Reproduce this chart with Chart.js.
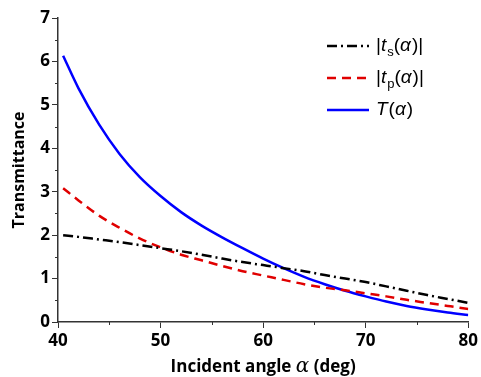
<!DOCTYPE html>
<html>
<head>
<meta charset="utf-8">
<script src="https://cdn.jsdelivr.net/npm/chart.js@4.4.1/dist/chart.umd.min.js"></script>
<style>
  html, body { margin: 0; padding: 0; background: #fff; }
  #wrap { width: 481px; height: 377px; position: relative; }
</style>
</head>
<body>
<div id="wrap"><canvas id="myChart"></canvas></div>
<script>
const angles = [40.5, 42, 44, 46, 48, 50, 52, 54, 56, 58, 60, 62, 64, 66, 68, 70, 72, 74, 76, 78, 80]
const tS = [2.0, 1.96, 1.9, 1.84, 1.77, 1.70, 1.63, 1.55, 1.46, 1.38, 1.31, 1.24, 1.17, 1.08, 1.0, 0.92, 0.82, 0.72, 0.62, 0.53, 0.44]
const tP = [3.08, 2.8, 2.45, 2.17, 1.92, 1.72, 1.55, 1.42, 1.29, 1.17, 1.07, 0.97, 0.87, 0.79, 0.73, 0.66, 0.59, 0.51, 0.44, 0.37, 0.3]
const bigT = [6.13, 5.38, 4.55, 3.87, 3.33, 2.90, 2.53, 2.22, 1.95, 1.70, 1.46, 1.24, 1.04, 0.87, 0.72, 0.59, 0.47, 0.37, 0.29, 0.22, 0.16]
const xTicks = [40, 50, 60, 70, 80]
const yTicks = [0, 1, 2, 3, 4, 5, 6, 7]

const pts = (ys) => angles.map((a, i) => ({x: a, y: ys[i]}))

// legend entries, text pieces: n normal, i italic, s subscript
const legendItems = [
  {color: '#000000', dash: [10, 4, 2, 4], parts: [['|', 'n'], ['t', 'i'], ['s', 's'], ['(', 'n'], ['α', 'i'], [')|', 'n']]},
  {color: '#e00000', dash: [9, 6], parts: [['|', 'n'], ['t', 'i'], ['p', 's'], ['(', 'n'], ['α', 'i'], [')|', 'n']]},
  {color: '#0000ff', dash: [], parts: [['T', 'i'], ['(', 'n'], ['α', 'i'], [')', 'n']]}
]

const extras = {
  id: 'extras',
  afterDraw(chart) {
    const ctx = chart.ctx
    const xs = chart.scales.x, ys = chart.scales.y
    const area = chart.chartArea
    ctx.save()
    // minor ticks
    ctx.strokeStyle = '#333'
    ctx.lineWidth = 1
    for (let v = 45; v < 80; v += 10) {
      const px = Math.round(xs.getPixelForValue(v)) + 0.5
      ctx.beginPath(); ctx.moveTo(px, area.bottom); ctx.lineTo(px, area.bottom + 3); ctx.stroke()
    }
    for (let v = 0.5; v < 7; v += 1) {
      const py = Math.round(ys.getPixelForValue(v)) + 0.5
      ctx.beginPath(); ctx.moveTo(area.left, py); ctx.lineTo(area.left - 3, py); ctx.stroke()
    }
    // x axis title with italic alpha
    const pieces = [['Incident angle ', 'bold 17px "Open Sans"'], ['α', 'italic 20px "DejaVu Serif"'], [' (deg)', 'bold 17px "Open Sans"']]
    let w = 0
    pieces.forEach(p => { ctx.font = p[1]; w += ctx.measureText(p[0]).width })
    let tx = (area.left + area.right) / 2 - w / 2
    ctx.fillStyle = '#000'
    ctx.textBaseline = 'alphabetic'
    pieces.forEach(p => { ctx.font = p[1]; ctx.fillText(p[0], tx, 372); tx += ctx.measureText(p[0]).width })
    // legend
    let y = 46
    legendItems.forEach(item => {
      ctx.strokeStyle = item.color
      ctx.lineWidth = 2.5
      ctx.setLineDash(item.dash)
      ctx.beginPath(); ctx.moveTo(327, y); ctx.lineTo(369, y); ctx.stroke()
      ctx.setLineDash([])
      let x = 376
      ctx.fillStyle = '#000'
      ctx.textBaseline = 'middle'
      item.parts.forEach(p => {
        let dy = 0
        if (p[1] === 'i') ctx.font = 'italic 19px "Liberation Sans"'
        else if (p[1] === 's') { ctx.font = '13px "Liberation Sans"'; dy = 6 }
        else ctx.font = '19px "Liberation Sans"'
        ctx.fillText(p[0], x, y + dy)
        x += ctx.measureText(p[0]).width + (p[1] === 'i' ? 1 : 0)
      })
      y += 32
    })
    ctx.restore()
  }
}

const ctxEl = document.getElementById('myChart')
const myChart = new Chart(ctxEl, {
  type: 'line',
  data: {
    datasets: [
      {data: pts(tS), borderColor: '#000000', borderDash: [10, 4, 2, 4], borderWidth: 2.5, pointRadius: 0, cubicInterpolationMode: 'monotone', fill: false},
      {data: pts(tP), borderColor: '#e00000', borderDash: [9, 6], borderWidth: 2.5, pointRadius: 0, cubicInterpolationMode: 'monotone', fill: false},
      {data: pts(bigT), borderColor: '#0000ff', borderWidth: 2.5, pointRadius: 0, cubicInterpolationMode: 'monotone', fill: false}
    ]
  },
  options: {
    responsive: true,
    maintainAspectRatio: false,
    animation: false,
    layout: {padding: {left: 0, top: 18, right: 11, bottom: 0}},
    plugins: {legend: false, tooltip: false},
    scales: {
      x: {
        type: 'linear', min: 40, max: 80,
        afterBuildTicks: (s) => { s.ticks = xTicks.map(v => ({value: v})) },
        afterFit: (s) => { s.height = 55 },
        ticks: {color: '#000', font: {family: 'Open Sans', weight: 'bold', size: 17}, padding: 3, maxRotation: 0},
        grid: {display: true, drawOnChartArea: false, tickLength: 6, tickColor: '#333'},
        border: {color: '#333', width: 1.5}
      },
      y: {
        min: 0, max: 7,
        afterBuildTicks: (s) => { s.ticks = yTicks.map(v => ({value: v})) },
        afterFit: (s) => { s.width = 58 },
        ticks: {color: '#000', font: {family: 'Open Sans', weight: 'bold', size: 17}, padding: 2},
        grid: {display: true, drawOnChartArea: false, tickLength: 6, tickColor: '#333'},
        border: {color: '#333', width: 1.5},
        title: {display: true, text: 'Transmittance', color: '#000', font: {family: 'Open Sans', weight: 'bold', size: 16}, padding: {top: 10, bottom: 0}}
      }
    }
  },
  plugins: [extras]
})
</script>
</body>
</html>
